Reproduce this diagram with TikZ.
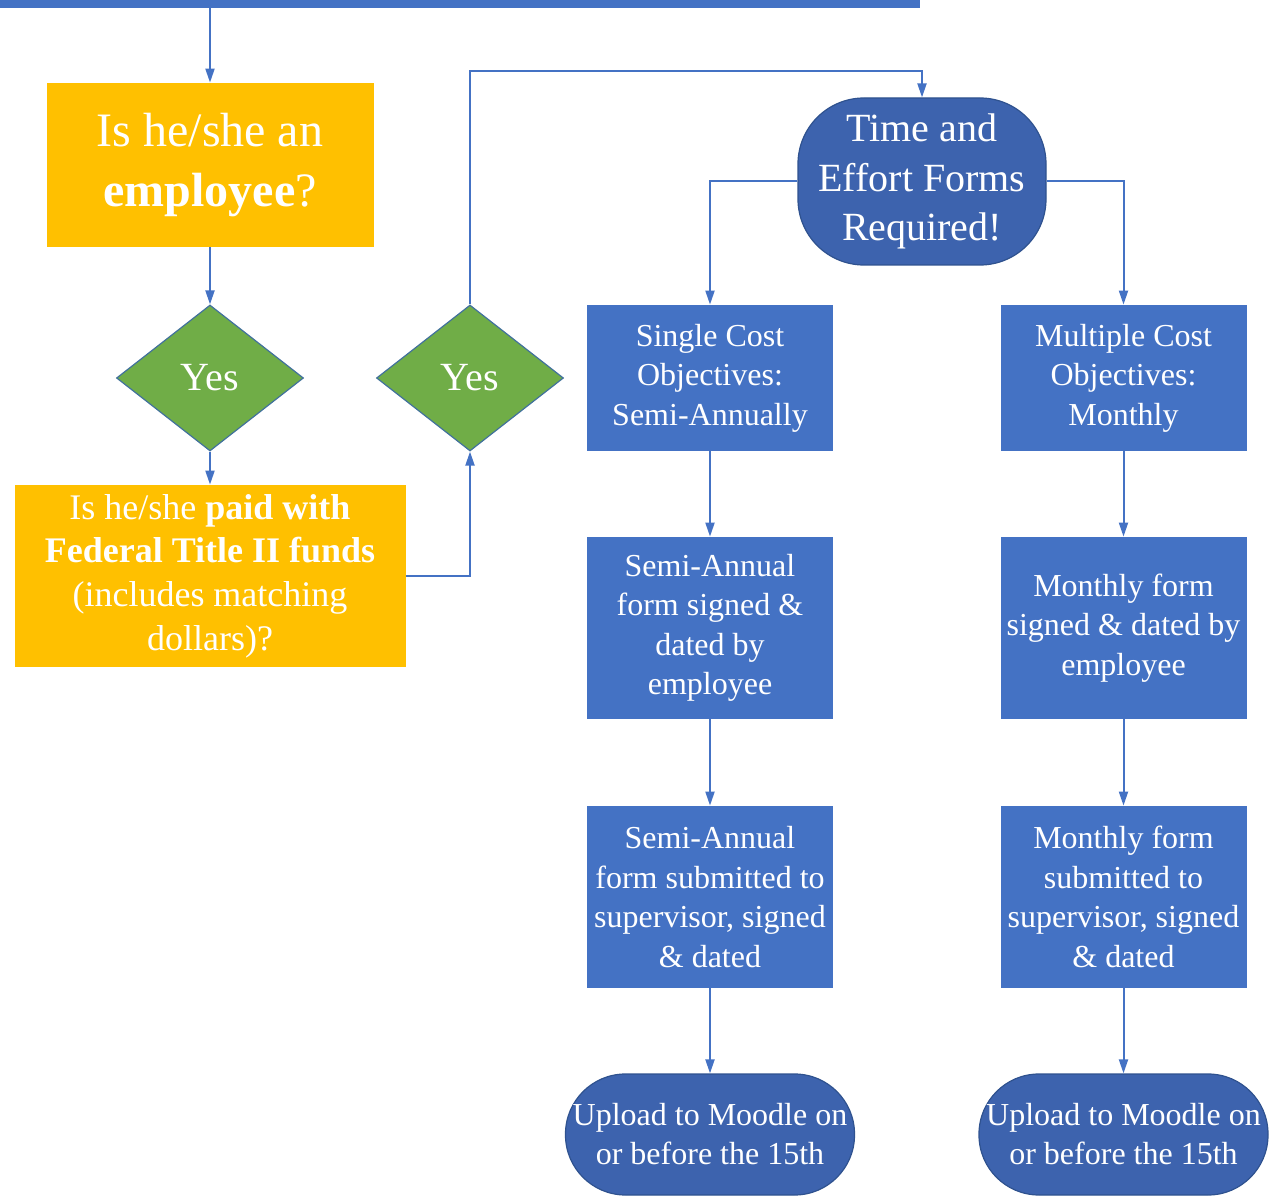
\documentclass[tikz,border=0pt]{standalone}
\usepackage{fontspec}
\setmainfont{Liberation Serif}
\usetikzlibrary{shapes.geometric,arrows.meta}

\definecolor{boxblue}{HTML}{4472C4}
\definecolor{termblue}{HTML}{3D63AE}
\definecolor{termedge}{HTML}{2F528F}
\definecolor{yesgreen}{HTML}{70AD47}
\definecolor{yesedge}{HTML}{41719C}
\definecolor{askyellow}{HTML}{FFC000}

\begin{document}
\begin{tikzpicture}[x=0.5pt,y=-0.5pt,
    arr/.style={draw=boxblue,line width=1pt,-{Triangle[length=7pt,width=4.5pt]}},
    ask/.style={fill=askyellow,text=white,inner sep=0pt,align=center},
    yesdiamond/.style={diamond,fill=yesgreen,draw=yesedge,line width=0.6pt,text=white,
        inner sep=0pt,minimum width=93.5pt,minimum height=73pt,font=\fontsize{20}{24}\selectfont},
    stepbox/.style={rectangle,fill=boxblue,text=white,inner sep=0pt,align=center,
        minimum width=123pt,font=\fontsize{16}{19.75}\selectfont},
    term/.style={rectangle,fill=termblue,draw=termedge,line width=0.6pt,text=white,
        inner sep=0pt,align=center}]
    % Parameters
    \def\leftX{710}
    \def\rightX{1123.5}

    \useasboundingbox (0,0) rectangle (1281,1203);

    % Top bar (cut off by the page edge)
    \node[fill=boxblue,minimum width=460pt,minimum height=9pt,inner sep=0pt] (top) at (460,-1) {};

    % Left column: questions
    \node[ask,minimum width=163.5pt,minimum height=82pt,font=\fontsize{24}{30}\selectfont] (emp) at (210,165)
        {Is he/she an\\\textbf{employee}?};
    \node[yesdiamond] (yes1) at (210,378) {Yes};
    \node[ask,minimum width=195.5pt,minimum height=91pt,font=\fontsize{18}{21.8}\selectfont] (fund) at (210,576)
        {Is he/she \textbf{paid with}\\\textbf{Federal Title II funds}\\(includes matching\\dollars)?};
    \node[yesdiamond] (yes2) at (470,378) {Yes};

    % Time and effort
    \node[term,rounded corners=33pt,minimum width=124pt,minimum height=83.5pt,
        font=\fontsize{20}{24.75}\selectfont] (time) at (922,181.5)
        {Time and\\Effort Forms\\Required!};

    % Single cost objective column
    \node[stepbox,minimum height=73pt] (single) at (\leftX,378) {Single Cost\\Objectives:\\Semi-Annually};
    \node[stepbox,minimum height=91pt] (semi1) at (\leftX,628) {Semi-Annual\\form signed \&\\dated by\\employee};
    \node[stepbox,minimum height=91pt] (semi2) at (\leftX,897) {Semi-Annual\\form submitted to\\supervisor, signed\\\& dated};
    \node[term,rounded corners=30pt,minimum width=144.5pt,minimum height=60.5pt,
        font=\fontsize{16}{19.5}\selectfont] (up1) at (\leftX,1134.5) {Upload to Moodle on\\or before the 15th};

    % Multiple cost objective column
    \node[stepbox,minimum height=73pt] (multi) at (\rightX,378) {Multiple Cost\\Objectives:\\Monthly};
    \node[stepbox,minimum height=91pt] (mon1) at (\rightX,628) {Monthly form\\signed \& dated by\\employee};
    \node[stepbox,minimum height=91pt] (mon2) at (\rightX,897) {Monthly form\\submitted to\\supervisor, signed\\\& dated};
    \node[term,rounded corners=30pt,minimum width=144.5pt,minimum height=60.5pt,
        font=\fontsize{16}{19.5}\selectfont] (up2) at (\rightX,1134.5) {Upload to Moodle on\\or before the 15th};

    % Connectors
    \draw[arr] (top.south -| emp.north) -- (emp.north);
    \draw[arr] (emp.south) -- (yes1.north);
    \draw[arr] (yes1.south) -- (fund.north);
    \draw[arr] (fund.east) -| (yes2.south);
    \draw[arr] (yes2.north) -- ++(0,-233) -| (time.north);
    \draw[arr] (time.west) -| (single.north);
    \draw[arr] (time.east) -| (multi.north);
    \draw[arr] (single) -- (semi1);
    \draw[arr] (semi1) -- (semi2);
    \draw[arr] (semi2) -- (up1);
    \draw[arr] (multi) -- (mon1);
    \draw[arr] (mon1) -- (mon2);
    \draw[arr] (mon2) -- (up2);
\end{tikzpicture}
\end{document}
